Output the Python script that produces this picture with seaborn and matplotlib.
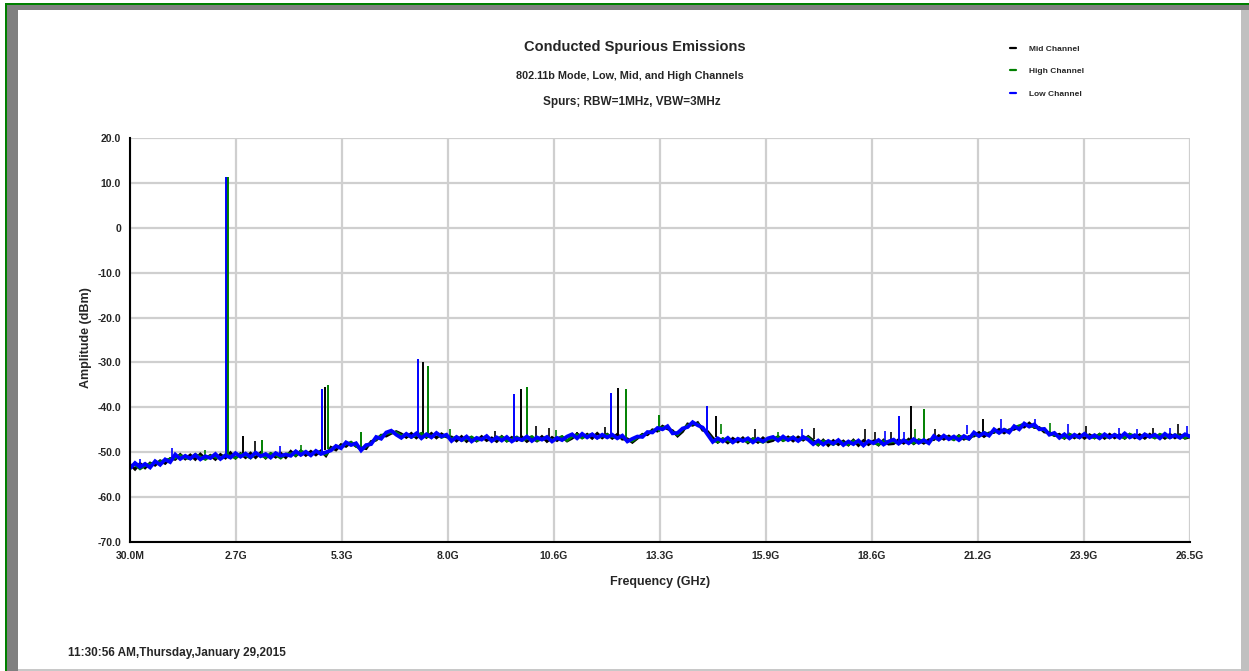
import numpy as np
import matplotlib
matplotlib.use("Agg")
import matplotlib.pyplot as plt
import seaborn as sns
from matplotlib.patches import Rectangle
from matplotlib.ticker import FixedLocator, FixedFormatter, MultipleLocator

# sweep 30 MHz .. 26.5 GHz, noise floor in dBm
F_START, F_STOP = 0.03, 26.5

LOW_FLOOR = [
    -53.6, -52.4, -53.3, -52.6, -53.4,
    -52.0, -52.8, -51.6, -52.2,
    -50.5, -51.5, -50.8, -51.4, -50.6, -51.6, -50.9, -51.3, -50.4, -51.5, -50.7,
    -51.2, -50.2, -51.0, -50.3, -51.1, -50.1, -50.9, -50.4, -51.2, -50.2, -50.8, -50.5,
    -50.8, -49.8, -50.6, -49.9, -50.7, -49.7, -50.4, -50.0,
    -49.6, -48.6, -49.1, -47.8, -48.4, -48.0, -49.6, -48.4,
    -48.2, -46.6, -47.0, -45.6, -45.2, -46.1,
    -46.8, -45.9, -46.6, -45.8, -46.9, -46.0, -46.7, -45.7, -46.5, -46.1,
    -47.5, -46.6, -47.3, -46.5, -47.6, -46.8, -47.2, -46.4, -47.5, -46.7, -47.4, -46.6,
    -47.6, -46.9, -47.3, -46.5, -47.5, -46.7, -47.2, -46.6, -47.6, -46.8, -47.3, -46.5,
    -46.0, -46.9, -45.9, -46.7, -46.0, -46.8, -46.1, -46.7,
    -46.1, -46.9, -46.3, -47.6, -47.0,
    -46.5, -46.6, -45.5, -45.6, -44.6, -44.9, -44.2,
    -45.8, -45.7,
    -44.7, -44.4, -43.3, -44.0, -44.5, -46.1,
    -47.7, -46.9, -47.6, -46.8, -47.8, -47.0, -47.5, -46.9, -47.8, -47.0, -47.6, -46.9,
    -46.6, -47.4, -46.5, -47.3, -46.7, -47.5, -46.6, -47.2,
    -48.2, -47.4, -48.3, -47.5, -48.1, -47.3, -48.4, -47.6,
    -48.2, -47.4, -48.5, -47.5, -48.0, -47.3, -48.3, -47.6,
    -47.2, -48.1, -47.3, -48.0, -47.1, -47.9, -47.3, -48.0,
    -46.4, -47.2, -46.3, -47.1, -46.5, -47.3, -46.4, -47.0,
    -45.6, -46.4, -45.7, -46.3,
    -44.9, -45.7, -45.0, -45.6,
    -44.2, -44.9, -43.6, -44.3, -43.8,
    -44.9, -44.8, -46.1, -45.7,
    -46.8, -46.0, -46.9, -46.1, -46.7, -45.9, -46.8, -46.2, -46.9, -46.0, -46.7, -46.1,
    -46.8, -45.8, -46.7, -46.2, -46.9, -46.0, -46.6, -46.1, -46.9, -45.9, -46.7, -46.2,
    -46.8, -46.0, -46.5,
]

MID_FLOOR = [
    -52.7, -53.8, -52.5, -53.5, -52.4,
    -52.9, -51.9, -52.5, -51.4,
    -51.6, -50.5, -51.5, -50.6, -51.6, -50.4, -51.4, -50.7, -51.6, -50.5, -51.3,
    -50.1, -51.3, -50.3, -51.2, -50.2, -51.2, -50.1, -51.3, -50.3, -51.1, -50.2, -51.2,
    -49.8, -50.8, -49.7, -50.7, -49.8, -50.6, -49.7, -50.8,
    -48.9, -49.5, -48.3, -48.7, -47.8, -48.7, -49.0, -49.2,
    -47.6, -47.3, -46.2, -46.4, -45.8, -45.4,
    -45.9, -46.7, -45.8, -46.8, -45.9, -46.7, -45.8, -46.8, -45.9, -46.6,
    -46.6, -47.5, -46.5, -47.6, -46.7, -47.5, -46.5, -47.4, -46.8, -47.6, -46.5, -47.5,
    -46.7, -47.4, -46.6, -47.6, -46.8, -47.5, -46.5, -47.6, -46.7, -47.4, -46.6, -47.5,
    -46.9, -45.9, -46.8, -46.0, -46.9, -45.8, -46.8, -46.0,
    -46.9, -46.0, -47.1, -47.0, -47.8,
    -46.9, -46.0, -46.1, -45.0, -45.3, -44.2, -44.8,
    -45.2, -46.4,
    -45.4, -43.7, -44.0, -43.4, -45.1, -45.4,
    -46.8, -47.8, -47.0, -47.9, -46.9, -47.7, -46.8, -47.9, -47.0, -47.8, -46.8, -47.7,
    -47.4, -46.5, -47.4, -46.6, -47.5, -46.6, -47.3, -46.5,
    -47.4, -48.4, -47.3, -48.5, -47.4, -48.3, -47.5, -48.4,
    -47.3, -48.5, -47.4, -48.3, -47.5, -48.4, -47.3, -48.2,
    -48.1, -47.2, -48.0, -47.1, -48.1, -47.3, -48.0, -47.2,
    -47.2, -46.3, -47.1, -46.4, -47.2, -46.3, -47.1, -46.5,
    -46.4, -45.6, -46.5, -45.7,
    -45.6, -44.9, -45.7, -45.0,
    -44.9, -44.2, -44.4, -43.5, -44.5,
    -44.5, -45.5, -45.6, -46.3,
    -46.0, -46.9, -46.0, -46.8, -46.0, -46.9, -46.1, -46.8, -46.0, -46.9, -46.0, -46.8,
    -46.1, -46.9, -46.0, -46.8, -46.1, -46.9, -46.0, -46.8, -46.1, -46.9, -46.0, -46.8,
    -46.1, -46.9, -46.6,
]

HIGH_FLOOR = [
    -53.2, -52.8, -53.7, -53.0, -52.6,
    -52.4, -52.1, -51.8, -51.5,
    -51.3, -50.7, -51.2, -51.5, -50.5, -51.0, -51.6, -50.8, -51.1, -51.4, -50.6,
    -50.8, -51.3, -50.4, -50.7, -51.3, -50.3, -50.6, -51.2, -50.3, -50.6, -51.3, -50.4,
    -50.3, -50.7, -49.8, -50.1, -50.6, -49.8, -50.1, -50.5,
    -49.3, -48.8, -48.7, -48.2, -47.8, -48.6, -49.4, -48.7,
    -47.9, -47.1, -46.3, -45.9, -45.6, -45.6,
    -46.3, -46.1, -46.7, -46.2, -45.8, -46.5, -46.4, -45.9, -46.7, -46.3,
    -47.0, -46.6, -47.4, -47.0, -46.6, -47.4, -47.1, -46.5, -47.3, -47.0, -46.6, -47.5,
    -47.1, -46.6, -47.4, -47.0, -46.5, -47.4, -47.1, -46.6, -47.3, -47.0, -46.5, -47.4,
    -46.5, -46.1, -46.8, -46.3, -46.0, -46.8, -46.4, -46.1,
    -46.5, -46.8, -46.6, -47.3, -47.5,
    -46.7, -46.2, -45.7, -45.3, -44.8, -44.5, -44.4,
    -45.5, -46.1,
    -44.9, -44.0, -43.7, -43.7, -44.7, -45.9,
    -47.3, -47.7, -47.0, -47.4, -47.8, -47.1, -47.3, -47.7, -47.0, -47.4, -47.8, -47.2,
    -47.0, -46.6, -47.4, -47.0, -46.6, -47.4, -47.0, -46.7,
    -47.8, -48.3, -47.5, -47.8, -48.3, -47.5, -47.9, -48.3,
    -47.5, -47.8, -48.4, -47.6, -47.9, -48.3, -47.5, -47.8,
    -47.6, -48.0, -47.3, -47.6, -48.0, -47.2, -47.6, -47.9,
    -46.8, -47.2, -46.4, -46.8, -47.2, -46.4, -46.8, -47.1,
    -46.0, -46.4, -45.6, -46.0,
    -45.3, -45.6, -44.9, -45.3,
    -44.5, -44.1, -43.7, -44.1, -44.3,
    -44.7, -45.1, -45.9, -46.2,
    -46.4, -46.8, -46.0, -46.4, -46.8, -46.0, -46.4, -46.8, -46.0, -46.4, -46.8, -46.1,
    -46.4, -46.8, -46.0, -46.4, -46.8, -46.1, -46.4, -46.8, -46.0, -46.4, -46.8, -46.1,
    -46.4, -46.8, -46.3,
]

# spurs: frequency (GHz), peak (dBm), floor level where the spur starts (dBm)
LOW_SPUR_GHZ = [2.43, 4.82, 7.22, 9.62, 12.03, 14.43, 19.23]
LOW_SPUR_DBM = [11.3, -36.0, -29.3, -37.1, -36.7, -39.7, -41.9]
LOW_SPUR_BASE = [-50.5, -50.0, -46.5, -47.0, -46.4, -46.0, -47.5]

MID_SPUR_GHZ = [2.45, 2.85, 4.90, 7.34, 9.79, 12.21, 14.66, 19.53, 21.33]
MID_SPUR_DBM = [11.3, -46.4, -35.5, -29.8, -36.0, -35.8, -41.9, -39.6, -42.7]
MID_SPUR_BASE = [-50.5, -50.6, -49.5, -46.3, -47.0, -46.5, -46.5, -47.5, -46.0]

HIGH_SPUR_GHZ = [2.48, 3.33, 4.97, 5.80, 7.47, 9.94, 12.41, 13.24, 19.86]
HIGH_SPUR_DBM = [11.3, -47.2, -35.0, -45.5, -30.7, -35.4, -35.9, -41.8, -40.4]
HIGH_SPUR_BASE = [-50.5, -50.6, -49.3, -49.0, -46.3, -47.0, -47.0, -45.5, -47.5]

# small noise peaks poking out of the floor
LOW_GRASS_GHZ = [0.28, 1.07, 3.78, 6.60, 16.80, 18.88, 19.36, 20.92, 21.77,
                 22.63, 23.45, 24.72, 25.17, 26.00, 26.42]
LOW_GRASS_DBM = [-51.6, -49.0, -48.6, -45.0, -44.9, -45.3, -45.6, -44.0, -42.7,
                 -42.5, -43.8, -44.7, -44.9, -44.5, -44.1]
LOW_GRASS_BASE = [-53.0, -51.0, -50.5, -46.0, -47.0, -47.5, -47.5, -46.0, -45.5,
                  -44.5, -46.0, -46.5, -46.5, -46.5, -46.5]

MID_GRASS_GHZ = [3.15, 9.14, 10.18, 10.49, 11.19, 11.89, 15.64, 17.10, 18.38,
                 18.63, 19.03, 20.13, 23.90, 25.57, 26.20]
MID_GRASS_DBM = [-47.5, -45.3, -44.1, -44.5, -45.6, -44.4, -44.9, -44.7, -44.9,
                 -45.4, -45.4, -44.9, -44.1, -44.7, -43.8]
MID_GRASS_BASE = [-50.5, -47.0, -47.0, -47.0, -47.0, -46.5, -47.5, -47.0, -48.0,
                  -48.0, -47.5, -47.0, -46.5, -46.5, -46.5]

HIGH_GRASS_GHZ = [1.90, 4.30, 8.02, 10.67, 14.80, 16.20, 19.63, 23.00]
HIGH_GRASS_DBM = [-49.5, -48.5, -44.9, -45.1, -43.8, -45.5, -44.9, -43.6]
HIGH_GRASS_BASE = [-51.0, -50.3, -46.5, -47.0, -46.0, -47.3, -47.5, -46.0]

X_TICK_LABELS = ["30.0M", "2.7G", "5.3G", "8.0G", "10.6G", "13.3G",
                 "15.9G", "18.6G", "21.2G", "23.9G", "26.5G"]
Y_TICKS = [-70, -60, -50, -40, -30, -20, -10, 0, 10, 20]
Y_TICK_LABELS = ["-70.0", "-60.0", "-50.0", "-40.0", "-30.0", "-20.0",
                 "-10.0", "0", "10.0", "20.0"]

sns.set_style("whitegrid")
FONT = ["Liberation Sans Narrow", "Liberation Sans", "DejaVu Sans"]
plt.rcParams["font.family"] = FONT
plt.rcParams["font.weight"] = "bold"

fig = plt.figure(figsize=(12.49, 6.71), dpi=100)
fig.patch.set_facecolor("white")
ax = fig.add_axes([130 / 1249, 1 - 542 / 671, 1060 / 1249, 404 / 671])

# (name, colour, trace width, floor, spurs..., grass...)
channels = [
    ("Mid Channel", "#000000", 2.0, MID_FLOOR, MID_SPUR_GHZ, MID_SPUR_DBM, MID_SPUR_BASE,
     MID_GRASS_GHZ, MID_GRASS_DBM, MID_GRASS_BASE),
    ("High Channel", "#008000", 2.0, HIGH_FLOOR, HIGH_SPUR_GHZ, HIGH_SPUR_DBM, HIGH_SPUR_BASE,
     HIGH_GRASS_GHZ, HIGH_GRASS_DBM, HIGH_GRASS_BASE),
    ("Low Channel", "#0000ff", 2.7, LOW_FLOOR, LOW_SPUR_GHZ, LOW_SPUR_DBM, LOW_SPUR_BASE,
     LOW_GRASS_GHZ, LOW_GRASS_DBM, LOW_GRASS_BASE),
]
for name, col, lw, floor, sf, sp, sb, gf, gp, gb in channels:
    freq = np.linspace(F_START, F_STOP, len(floor))
    sns.lineplot(x=freq, y=floor, color=col, lw=lw, label=name,
                 estimator=None, sort=False, ax=ax,
                 solid_joinstyle="miter")
    ax.vlines(sf, sb, sp, color=col, lw=1.4)
    ax.vlines(gf, gb, gp, color=col, lw=1.2)

ax.set_xlim(F_START, F_STOP)
ax.set_ylim(-70, 20)
xt = np.linspace(F_START, F_STOP, len(X_TICK_LABELS))
ax.xaxis.set_major_locator(FixedLocator(xt))
ax.xaxis.set_major_formatter(FixedFormatter(X_TICK_LABELS))
ax.xaxis.set_minor_locator(FixedLocator(np.linspace(F_START, F_STOP, 101)))
ax.yaxis.set_major_locator(FixedLocator(Y_TICKS))
ax.yaxis.set_major_formatter(FixedFormatter(Y_TICK_LABELS))
ax.yaxis.set_minor_locator(MultipleLocator(2.5))

ax.grid(True, which="major", color="#cfcfcf", lw=1.6)
ax.grid(False, which="minor")
for s in ["top", "right"]:
    ax.spines[s].set_visible(False)
for s in ["left", "bottom"]:
    ax.spines[s].set_color("black")
    ax.spines[s].set_linewidth(1.5)
ax.tick_params(which="major", direction="inout", length=9, width=1.3,
               color="black", labelsize=7.5, pad=2)
ax.tick_params(which="minor", direction="inout", length=6, width=1.1,
               color="black")
for lab in ax.get_xticklabels() + ax.get_yticklabels():
    lab.set_fontweight("bold")

ax.set_xlabel("Frequency (GHz)", fontsize=9, fontweight="bold", labelpad=11)
ax.set_ylabel("Amplitude (dBm)", fontsize=9, fontweight="bold")
ax.yaxis.set_label_coords(-0.036, 0.505)

handles, labels = ax.get_legend_handles_labels()
ax.get_legend().remove()
leg = fig.legend(handles, labels, loc="upper left",
                 bbox_to_anchor=(1006 / 1249, 1 - 41 / 671), frameon=False,
                 handlelength=0.7, handletextpad=1.6, labelspacing=1.75,
                 borderpad=0, prop={"weight": "bold", "size": 6})
for h in leg.legend_handles:
    h.set_linewidth(1.6)

fig.text(635 / 1249, 1 - 47 / 671, "Conducted Spurious Emissions",
         ha="center", va="center", fontsize=10.5, fontweight="bold")
fig.text(630 / 1249, 1 - 76 / 671, "802.11b Mode, Low, Mid, and High Channels",
         ha="center", va="center", fontsize=7.8, fontweight="bold")
fig.text(632 / 1249, 1 - 102 / 671, "Spurs; RBW=1MHz, VBW=3MHz",
         ha="center", va="center", fontsize=8.5, fontweight="bold")
fig.text(68 / 1249, 1 - 653 / 671, "11:30:56 AM,Thursday,January 29,2015",
         ha="left", va="center", fontsize=8.5, fontweight="bold")

# window frame around the report
W, H = 1249, 671
def frame(x, y, w, h, c):
    fig.add_artist(Rectangle((x / W, 1 - (y + h) / H), w / W, h / H,
                             transform=fig.transFigure, color=c, lw=0))
frame(5, 3, 1244, 2, "#008000")
frame(5, 3, 2, 668, "#008000")
frame(7, 5, 1242, 5, "#808080")
frame(7, 5, 11, 666, "#808080")
frame(1241, 10, 8, 661, "#c0c0c0")
frame(18, 669, 1223, 2, "#c8c8c8")

fig.savefig("out.png", dpi=100)
